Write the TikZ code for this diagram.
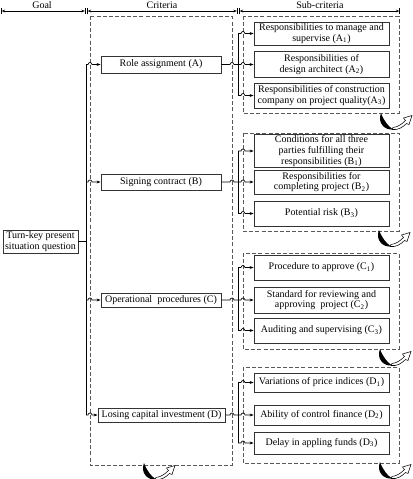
\documentclass[tikz,border=0pt]{standalone}
\usepackage{fontspec}
\setmainfont{Liberation Serif}
\usetikzlibrary{arrows.meta}
\tikzset{
  fnt/.style={font=\fontsize{7.5}{8}\selectfont},
  box/.style={draw=black!80, line width=0.6pt, align=center, inner sep=1pt, fnt},
  sub/.style={box, minimum width=101.25pt},
  crit/.style={box, minimum width=90pt},
  frame/.style={draw=black!65, line width=0.6pt, dash pattern=on 3pt off 1.6pt},
  line/.style={draw=black, line width=0.5pt},
  conn/.style={line, -{Stealth[length=3pt,width=2.2pt]}},
  hdr/.style={line, |<->|, >={Stealth[length=2.6pt,width=2pt]}},
  hop/.style={insert path={arc[start angle=180,end angle=0,radius=1.5pt]}},
  curl/.pic={
    \fill (2,0) .. controls (-2,10) and (6,17.5) .. (14,16.5) .. controls (9,13) and (5,8) .. (2,0) -- cycle;
    \draw[fill=white,line width=0.4pt] (13,16.5) .. controls (19,17.5) and (24,14) .. (27.5,10.5) -- (30,11.5) -- (33,2.5) -- (24.5,5) -- (26.5,7.5) .. controls (23,11) and (19,14) .. (14,14.5) -- cycle;
  }
}
\begin{document}
\begin{tikzpicture}[x=0.75pt,y=-0.75pt]
\useasboundingbox (0,0) rectangle (413,479);

% header
\coordinate (g0) at (1,11);   \coordinate (g1) at (85.5,11);
\coordinate (c0) at (87,11);  \coordinate (c1) at (237.5,11);
\coordinate (s0) at (239,11); \coordinate (s1) at (400,11);
\draw[hdr] (g0) -- (g1);
\draw[hdr] (c0) -- (c1);
\draw[hdr] (s0) -- (s1);
\node[fnt, inner sep=0pt, anchor=base] (hg) at (42,8.5) {Goal};
\node[fnt, inner sep=0pt, anchor=base] (hc) at (162,8.5) {Criteria};
\node[fnt, inner sep=0pt, anchor=base] (hs) at (320,8.5) {Sub-criteria};

% dashed frames
\draw[frame] (90,16) rectangle (232,465);
\draw[frame] (243,16) rectangle (399,113);
\draw[frame] (243,133) rectangle (399,231);
\draw[frame] (243,253) rectangle (399,349);
\draw[frame] (243,367) rectangle (399,463);

% goal
\node[box, minimum width=56.25pt, minimum height=17.25pt] (goal) at (40.5,241.5) {Turn-key present\\situation question};

% criteria
\node[crit, minimum height=12.75pt] (ra) at (161,64.5) {Role assignment (A)};
\node[crit, minimum height=12pt] (sb) at (161,182) {Signing contract (B)};
\node[crit, minimum height=10.5pt] (oc) at (161,300) {Operational\ \ procedures (C)};
\node[box, minimum width=95.25pt, minimum height=10.5pt] (ld) at (161.5,415) {Losing capital investment (D)};

% sub-criteria
\node[sub, minimum height=17.25pt] (a1) at (321.5,33.5) {Responsibilities to manage and\\supervise (A\textsubscript{1})};
\node[sub, minimum height=19.5pt]  (a2) at (321.5,64.5) {Responsibilities of\\design architect (A\textsubscript{2})};
\node[sub, minimum height=18.75pt] (a3) at (321.5,95.5) {Responsibilities of construction\\company on project quality(A\textsubscript{3})};

\node[sub, minimum height=25pt, inner sep=0.5pt] (b1) at (321.5,151) {Conditions for all three\\parties fulfilling their\\responsibilities (B\textsubscript{1})};
\node[sub, minimum height=18pt]    (b2) at (321.5,182) {Responsibilities for\\completing project (B\textsubscript{2})};
\node[sub, minimum height=18.75pt] (b3) at (321.5,213.5) {Potential risk (B\textsubscript{3})};

\node[sub, minimum height=18.75pt] (c1n) at (321.5,267.5) {Procedure to approve (C\textsubscript{1})};
\node[sub, minimum height=19.5pt]  (c2n) at (321.5,300) {Standard for reviewing and\\approving\ \ project (C\textsubscript{2})};
\node[sub, minimum height=18.75pt] (c3n) at (321.5,330.5) {Auditing and supervising (C\textsubscript{3})};

\node[sub, minimum height=14.25pt] (d1) at (321.5,382.5) {Variations of price indices (D\textsubscript{1})};
\node[sub, minimum height=15pt]    (d2) at (321.5,415) {Ability of control finance (D\textsubscript{2})};
\node[sub, minimum height=16.5pt]  (d3) at (321.5,443) {Delay in appling funds (D\textsubscript{3})};

% helper x positions
\coordinate (tx) at (86,0);
\coordinate (hT) at (88,0);
\coordinate (hC) at (230,0);
\coordinate (hS) at (241,0);
\coordinate (bx) at (238,0);

% trunk
\draw[line] (ra.west -| tx) -- (ld.west -| tx);
\draw[line] (goal.east) -- (goal.east -| tx);
\foreach \n in {ra,sb,oc,ld}{
  \draw[conn] (\n.west -| tx) -- (\n.west -| hT) [hop] -- (\n.west);
}

% criteria to sub-criteria
\foreach \c/\m in {ra/a2,sb/b2,oc/c2n,ld/d2}{
  \draw[conn] (\c.east) -- (\c.east -| hC) [hop] -- (\c.east -| hS) [hop] -- (\m.west);
}
\foreach \t/\b in {a1/a3,b1/b3,c1n/c3n,d1/d3}{
  \draw[line] (\t.west -| bx) -- (\b.west -| bx);
  \draw[conn] (\t.west -| bx) -- (\t.west -| hS) [hop] -- (\t.west);
  \draw[conn] (\b.west -| bx) -- (\b.west -| hS) [hop] -- (\b.west);
}

% curl icons
\pic at (379,113) {curl};
\pic at (377,230) {curl};
\pic at (378,349) {curl};
\pic at (378,462) {curl};
\pic at (142,463) {curl};
\end{tikzpicture}
\end{document}
